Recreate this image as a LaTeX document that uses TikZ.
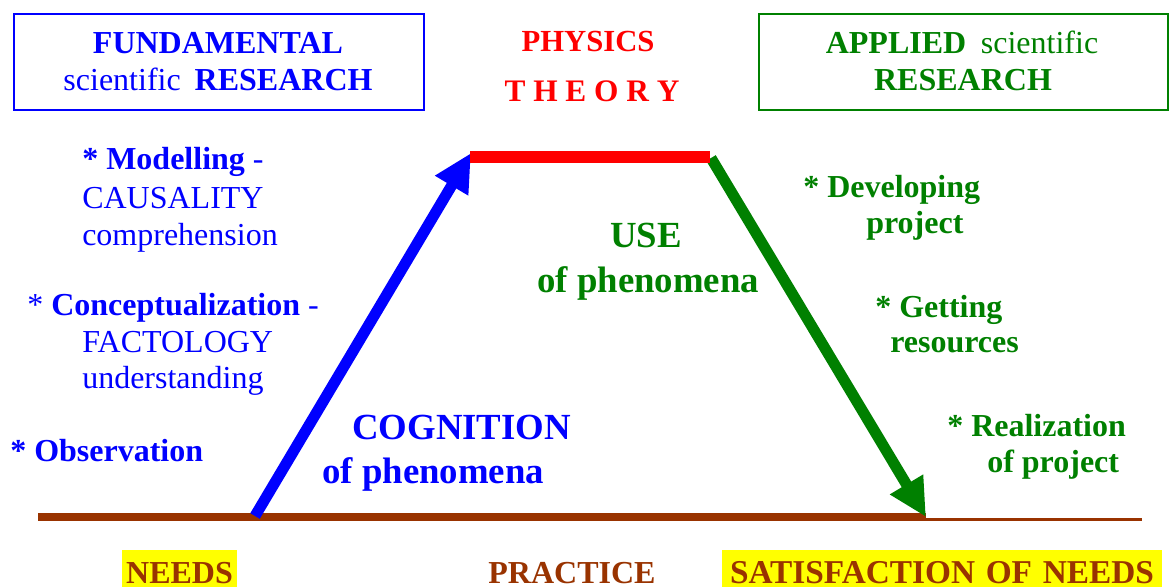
\documentclass[tikz,border=0pt]{standalone}
\usepackage{fontspec}
\setmainfont{Liberation Serif}
\usetikzlibrary{arrows.meta}
\definecolor{myblue}{HTML}{0000FF}
\definecolor{mygreen}{HTML}{008000}
\definecolor{myred}{HTML}{FF0000}
\definecolor{mybrown}{HTML}{993300}
\definecolor{myyellow}{HTML}{FFFF00}
\begin{document}
\begin{tikzpicture}[x=0.75pt,y=-0.75pt,
  txt/.style={inner sep=0pt, font=\fontsize{24}{28}\selectfont},
  bigtxt/.style={inner sep=0pt, anchor=base west, font=\fontsize{27.6}{32}\selectfont\bfseries},
  lbl/.style={txt, anchor=base west},
  ctr/.style={txt, anchor=base},
  framebox/.style={draw, line width=1.5pt, inner sep=0pt, anchor=north west, minimum height=72pt},
  bigarrow/.style={line width=8.25pt, -{Triangle[width=27pt,length=28.5pt]}},
  hl/.style={txt, anchor=base, fill=myyellow, text=mybrown, text height=24.75pt, text depth=3pt}
]
\useasboundingbox (0,0) rectangle (1171,587);

% header boxes
\node[framebox, draw=myblue, minimum width=307.5pt] (fbox) at (13,13) {};
\node[framebox, draw=mygreen, minimum width=306.75pt] (abox) at (758,13) {};
\node[ctr, text=myblue] (fund) at (218,53) {\textbf{FUNDAMENTAL}};
\node[ctr, text=myblue] (fres) at (218,90) {scientific\hspace{10.5pt}\textbf{RESEARCH}};
\node[ctr, text=mygreen] (appl) at (962,53) {\textbf{APPLIED}\hspace{11pt}scientific};
\node[ctr, text=mygreen] (ares) at (963,90) {\textbf{RESEARCH}};
\node[ctr, text=myred, font=\fontsize{23}{28}\selectfont] (phys) at (588,51) {\textbf{PHYSICS}};
\node[ctr, text=myred, font=\fontsize{23.5}{28}\selectfont] (theo) at (592,101) {\textbf{T H E O R Y}};

% left texts
\node[lbl, text=myblue] (mod1) at (82,169) {\textbf{* Modelling} -};
\node[lbl, text=myblue] (mod2) at (82,208) {CAUSALITY};
\node[lbl, text=myblue] (mod3) at (82,245) {comprehension};
\node[lbl, text=myblue] (con1) at (27,315) {* \textbf{Conceptualization} -};
\node[lbl, text=myblue] (con2) at (82,352) {FACTOLOGY};
\node[lbl, text=myblue] (con3) at (82,388) {understanding};
\node[lbl, text=myblue] (obs) at (10,461) {\textbf{* Observation}};

% middle texts
\node[bigtxt, text=myblue] (cog1) at (352,439) {COGNITION};
\node[bigtxt, text=myblue] (cog2) at (322,483) {of phenomena};
\node[bigtxt, text=mygreen] (use1) at (610,247) {USE};
\node[bigtxt, text=mygreen] (use2) at (537,292) {of phenomena};

% right texts
\node[lbl, text=mygreen] (dev1) at (803,197) {\textbf{* Developing}};
\node[lbl, text=mygreen] (dev2) at (866,233) {\textbf{project}};
\node[lbl, text=mygreen] (get1) at (875,317) {\textbf{* Getting}};
\node[lbl, text=mygreen] (get2) at (890,352) {\textbf{resources}};
\node[lbl, text=mygreen] (rea1) at (947,436) {\textbf{* Realization}};
\node[lbl, text=mygreen] (rea2) at (987,472) {\textbf{of project}};

% bottom texts
\node[hl, minimum width=86.25pt] (needs) at (179.5,583) {\textbf{NEEDS}};
\node[ctr, text=mybrown] (prac) at (572,583) {\textbf{PRACTICE}};
\node[hl, minimum width=330pt, font=\fontsize{25}{28}\selectfont] (satis) at (942,583) {\textbf{SATISFACTION\hspace{8pt}OF\hspace{8pt}NEEDS}};

% practice line
\coordinate (pl) at (38,517);
\coordinate (pm) at (926,517);
\coordinate (pm2) at (926,519.5);
\coordinate (pr) at (1142,519.5);
\draw[mybrown, line width=6pt] (pl) -- (pm);
\draw[mybrown, line width=2.25pt] (pm2) -- (pr);

% arrows
\coordinate (bt) at (255,516);
\coordinate (bh) at (471,153);
\coordinate (gs) at (711,158);
\coordinate (gh) at (926,517);
\draw[bigarrow, myblue] (bt) -- (bh);
\draw[bigarrow, mygreen] (gs) -- (gh);

% theory bar
\coordinate (rl) at (470,157);
\coordinate (rr) at (710,157);
\draw[myred, line width=9pt] (rl) -- (rr);
\end{tikzpicture}
\end{document}
